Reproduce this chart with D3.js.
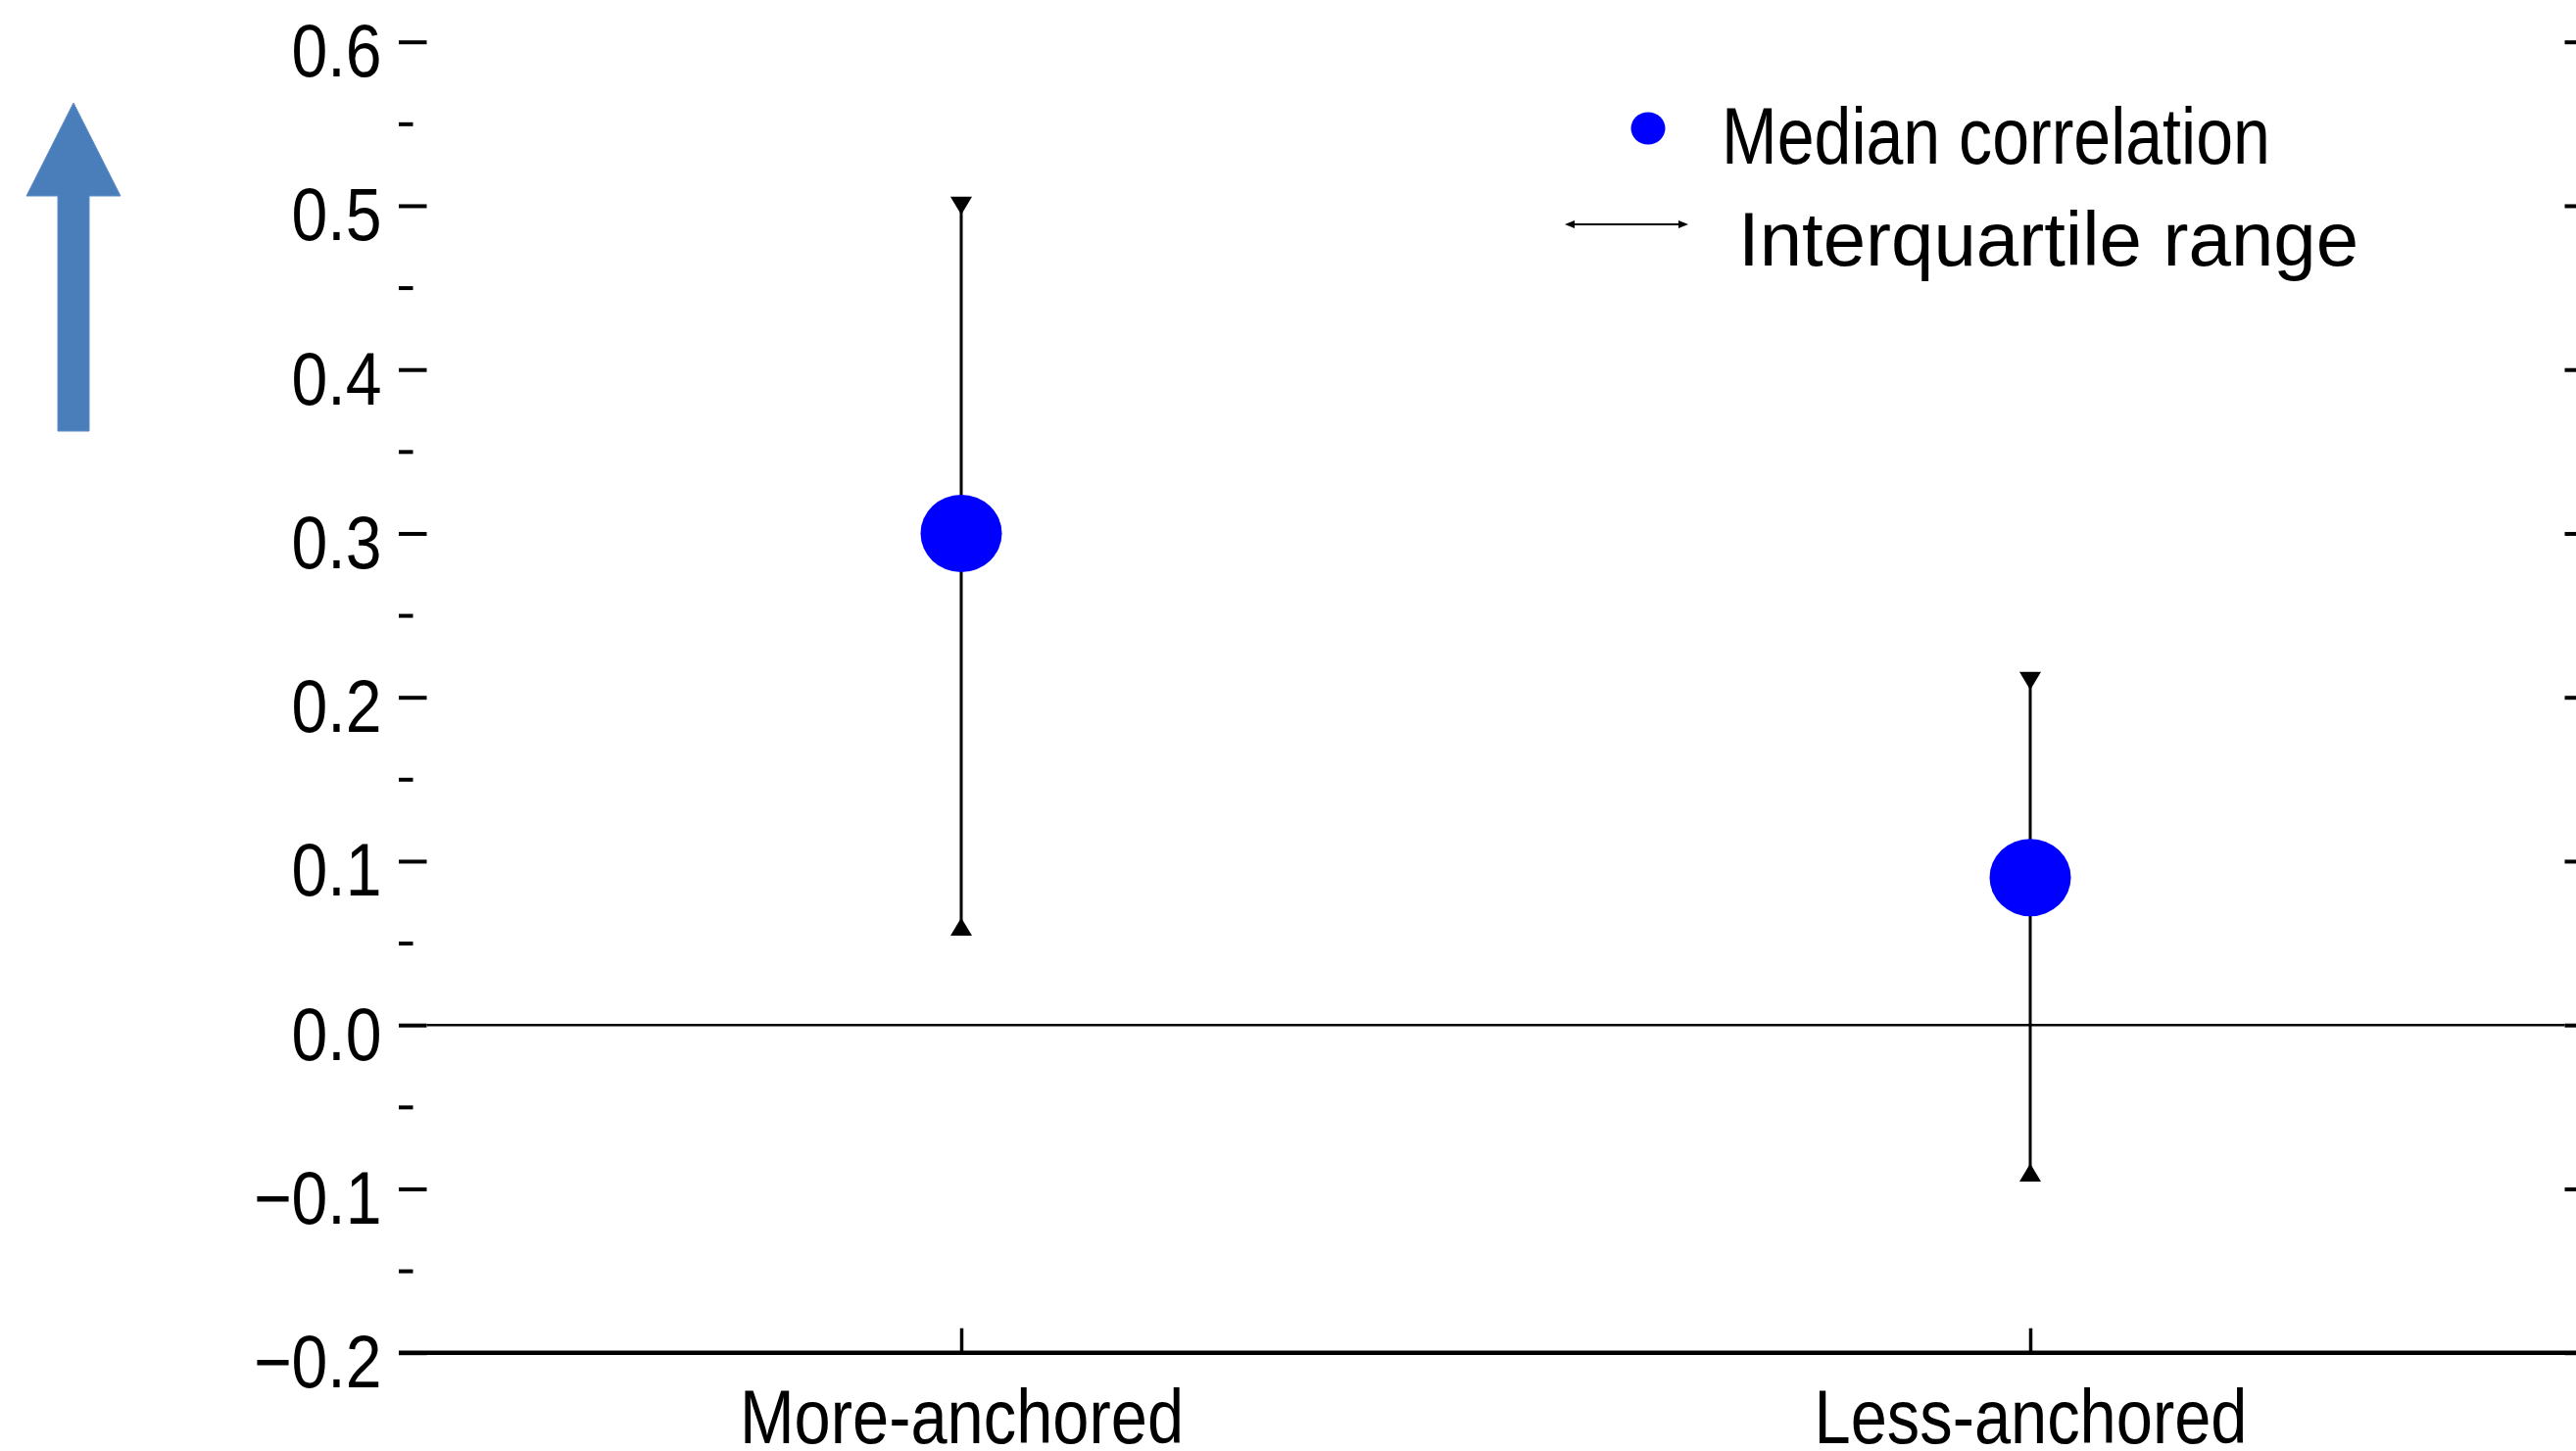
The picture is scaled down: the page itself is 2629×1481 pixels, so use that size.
<!DOCTYPE html>
<html>
<head>
<meta charset="utf-8">
<script src="https://cdn.jsdelivr.net/npm/d3@7"></script>
<style>
  html, body { margin: 0; padding: 0; background: #fff; overflow: hidden; }
  svg text { font-family: "Liberation Sans", Arial, Helvetica, sans-serif; fill: #000; }
</style>
</head>
<body>
<svg id="chart" width="2629" height="1481"></svg>
<script>
// Median correlation and interquartile range per group
const groups   = ["More-anchored", "Less-anchored"];
const medians  = [0.30, 0.09];
const lowerQ   = [0.06, -0.09];
const upperQ   = [0.50, 0.21];

// Axis tick values
const yMajorTicks = [-0.2, -0.1, 0.0, 0.1, 0.2, 0.3, 0.4, 0.5, 0.6];
const yMinorTicks = [-0.15, -0.05, 0.05, 0.15, 0.25, 0.35, 0.45, 0.55];
const yDomain     = [-0.2, 0.6];

// Legend entries
const legendLabels = ["Median correlation", "Interquartile range"];

const svg = d3.select("#chart");
const plot = { left: 435.5, right: 2617.5, top: 42.7, bottom: 1380.7 };

const x = d3.scalePoint().domain(groups).range([plot.left, plot.right]).padding(0.5);
const y = d3.scaleLinear().domain(yDomain).range([plot.bottom, plot.top]);
const fmt = d3.format(".1f");

// Direction arrow at the left
svg.append("polygon")
  .attr("points", [[75, 105], [123, 200], [91, 200], [91, 440], [59, 440], [59, 200], [27, 200]].join(" "))
  .attr("fill", "#4A7EBB")
  .attr("stroke", "#5F8CC6")
  .attr("stroke-width", 1);

// Left axis: major ticks with labels
const gMajor = svg.append("g")
  .attr("transform", `translate(${plot.left},0)`)
  .call(d3.axisLeft(y).tickValues(yMajorTicks).tickSize(28.5).tickFormat(fmt));
gMajor.select(".domain").remove();
gMajor.selectAll(".tick line").attr("stroke", "#000").attr("stroke-width", 4);
gMajor.selectAll(".tick text")
  .attr("x", null).attr("dy", null)
  .attr("transform", "translate(-46,35) scale(0.87,1)")
  .attr("text-anchor", "end")
  .style("font-size", "76px")
  .style("font-family", "'Liberation Sans', Arial, sans-serif");

// Left axis: minor ticks
const gMinor = svg.append("g")
  .attr("transform", `translate(${plot.left - 14},0)`)
  .call(d3.axisLeft(y).tickValues(yMinorTicks).tickSize(14.5).tickFormat(""));
gMinor.select(".domain").remove();
gMinor.selectAll(".tick line").attr("stroke", "#000").attr("stroke-width", 4);

// Right axis: major ticks only
const gRight = svg.append("g")
  .attr("transform", `translate(${plot.right},0)`)
  .call(d3.axisRight(y).tickValues(yMajorTicks).tickSize(28.5).tickFormat(""));
gRight.select(".domain").remove();
gRight.selectAll(".tick line").attr("stroke", "#000").attr("stroke-width", 4);

// Bottom axis with inward ticks
const gBottom = svg.append("g")
  .attr("transform", `translate(0,${plot.bottom})`)
  .call(d3.axisBottom(x).tickSizeInner(-25).tickSizeOuter(0));
gBottom.select(".domain").remove();
gBottom.selectAll(".tick line").attr("stroke", "#000").attr("stroke-width", 3.5);
gBottom.selectAll(".tick text")
  .attr("y", null).attr("dy", null)
  .attr("transform", "translate(0,92) scale(0.868,1)")
  .attr("text-anchor", "middle")
  .style("font-size", "77px")
  .style("font-family", "'Liberation Sans', Arial, sans-serif");

// Bottom axis line
svg.append("line")
  .attr("x1", plot.left - 28.5).attr("x2", plot.right + 28.5)
  .attr("y1", y(yDomain[0])).attr("y2", y(yDomain[0]))
  .attr("stroke", "#000").attr("stroke-width", 4.5);

// Zero reference line
svg.append("line")
  .attr("x1", plot.left).attr("x2", plot.right)
  .attr("y1", y(0)).attr("y2", y(0))
  .attr("stroke", "#000").attr("stroke-width", 2.5);

// Interquartile range bars
const rows = groups.map((g, i) => ({ g, med: medians[i], lo: lowerQ[i], hi: upperQ[i] }));
const bars = svg.append("g").selectAll("g").data(rows).join("g");
bars.append("line")
  .attr("x1", d => x(d.g)).attr("x2", d => x(d.g))
  .attr("y1", d => y(d.hi)).attr("y2", d => y(d.lo))
  .attr("stroke", "#000").attr("stroke-width", 3);
const tw = 11, th = 9.2;
bars.append("path")
  .attr("d", d => {
    const cx = x(d.g), cy = y(d.hi);
    return `M${cx - tw},${cy - th}L${cx + tw},${cy - th}L${cx},${cy + th}Z`;
  })
  .attr("fill", "#000");
bars.append("path")
  .attr("d", d => {
    const cx = x(d.g), cy = y(d.lo);
    return `M${cx - tw},${cy + th}L${cx + tw},${cy + th}L${cx},${cy - th}Z`;
  })
  .attr("fill", "#000");

// Median markers
bars.append("ellipse")
  .attr("cx", d => x(d.g)).attr("cy", d => y(d.med))
  .attr("rx", 41.5).attr("ry", 39.5)
  .attr("fill", "#0000FF");

// Legend
const legend = svg.append("g");
legend.append("ellipse")
  .attr("cx", 1682).attr("cy", 131).attr("rx", 17.5).attr("ry", 16.5)
  .attr("fill", "#0000FF");
legend.append("text")
  .attr("transform", "translate(1757,167) scale(0.83,1)")
  .style("font-size", "82px")
  .text(legendLabels[0]);

legend.append("line")
  .attr("x1", 1600).attr("x2", 1720).attr("y1", 229).attr("y2", 229)
  .attr("stroke", "#000").attr("stroke-width", 2);
legend.append("path")
  .attr("d", "M1597,229L1607,225L1607,233Z M1723,229L1713,225L1713,233Z")
  .attr("fill", "#000");
legend.append("text")
  .attr("transform", "translate(1774,271)")
  .style("font-size", "78px")
  .text(legendLabels[1]);
</script>
</body>
</html>
